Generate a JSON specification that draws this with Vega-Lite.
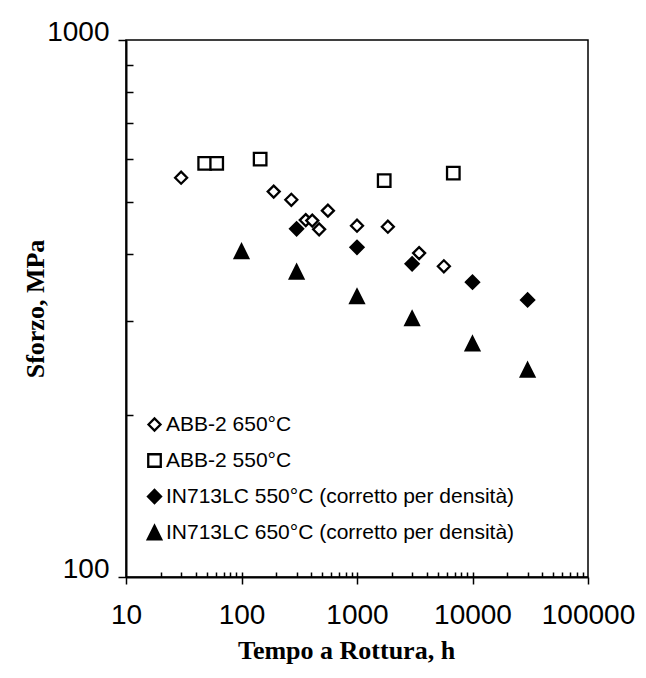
{
  "$schema": "https://vega.github.io/schema/vega-lite/v6.json",
  "width": 462,
  "height": 537,
  "autosize": {"type": "none"},
  "padding": {"left": 126, "top": 40, "right": 58, "bottom": 101},
  "background": "white",
  "config": {
    "view": {"stroke": "black", "strokeWidth": 1.5},
    "axis": {
      "grid": false,
      "domainColor": "black",
      "domainWidth": 2,
      "tickColor": "black",
      "tickWidth": 1.5,
      "labelColor": "black",
      "titleColor": "black",
      "labelFont": "Liberation Sans",
      "labelFontSize": 28,
      "titleFont": "Liberation Serif",
      "titleFontWeight": "bold",
      "titleFontSize": 26
    },
    "legend": {
      "labelFont": "Liberation Sans",
      "labelFontSize": 21,
      "labelColor": "black"
    }
  },
  "data": {
    "values": [
      {"serie": "ABB-2 650°C", "tempo": 30, "sforzo": 554},
      {"serie": "ABB-2 650°C", "tempo": 190, "sforzo": 522},
      {"serie": "ABB-2 650°C", "tempo": 270, "sforzo": 504},
      {"serie": "ABB-2 650°C", "tempo": 360, "sforzo": 462},
      {"serie": "ABB-2 650°C", "tempo": 410, "sforzo": 461},
      {"serie": "ABB-2 650°C", "tempo": 470, "sforzo": 444},
      {"serie": "ABB-2 650°C", "tempo": 560, "sforzo": 481},
      {"serie": "ABB-2 650°C", "tempo": 1000, "sforzo": 451},
      {"serie": "ABB-2 650°C", "tempo": 1850, "sforzo": 449},
      {"serie": "ABB-2 650°C", "tempo": 3450, "sforzo": 401},
      {"serie": "ABB-2 650°C", "tempo": 5650, "sforzo": 379},
      {"serie": "ABB-2 550°C", "tempo": 48, "sforzo": 589},
      {"serie": "ABB-2 550°C", "tempo": 61, "sforzo": 589},
      {"serie": "ABB-2 550°C", "tempo": 145, "sforzo": 600},
      {"serie": "ABB-2 550°C", "tempo": 1720, "sforzo": 547},
      {"serie": "ABB-2 550°C", "tempo": 6820, "sforzo": 565},
      {"serie": "IN713LC 550°C (corretto per densità)", "tempo": 300, "sforzo": 445},
      {"serie": "IN713LC 550°C (corretto per densità)", "tempo": 1000, "sforzo": 411},
      {"serie": "IN713LC 550°C (corretto per densità)", "tempo": 3000, "sforzo": 383},
      {"serie": "IN713LC 550°C (corretto per densità)", "tempo": 10000, "sforzo": 354},
      {"serie": "IN713LC 550°C (corretto per densità)", "tempo": 30000, "sforzo": 328},
      {"serie": "IN713LC 650°C (corretto per densità)", "tempo": 100, "sforzo": 404},
      {"serie": "IN713LC 650°C (corretto per densità)", "tempo": 300, "sforzo": 370},
      {"serie": "IN713LC 650°C (corretto per densità)", "tempo": 1000, "sforzo": 333},
      {"serie": "IN713LC 650°C (corretto per densità)", "tempo": 3000, "sforzo": 303},
      {"serie": "IN713LC 650°C (corretto per densità)", "tempo": 10000, "sforzo": 272},
      {"serie": "IN713LC 650°C (corretto per densità)", "tempo": 30000, "sforzo": 243}
    ]
  },
  "layer": [
    {
      "mark": {"type": "point", "filled": false, "opacity": 1, "stroke": "black", "strokeWidth": 2.3},
      "encoding": {
        "x": {
          "field": "tempo", "type": "quantitative",
          "scale": {"type": "log", "domain": [10, 100000], "nice": false},
          "axis": {
            "orient": "bottom",
            "values": [10, 100, 1000, 10000, 100000],
            "format": "d",
            "tickSize": 7,
            "labelPadding": 17,
            "labelFlush": false,
            "labelOverlap": false,
            "title": "Tempo a Rottura, h",
            "titlePadding": 8,
            "titleX": 220
          }
        },
        "y": {
          "field": "sforzo", "type": "quantitative",
          "scale": {"type": "log", "domain": [100, 1000], "nice": false},
          "axis": {
            "orient": "left",
            "values": [100, 1000],
            "format": "d",
            "tickSize": 8,
            "labelPadding": 9,
            "labelOffset": -8,
            "labelFlush": false,
            "labelOverlap": false,
            "title": "Sforzo, MPa",
            "titlePadding": -2
          }
        },
        "shape": {
          "field": "serie", "type": "nominal",
          "scale": {
            "domain": ["ABB-2 650°C", "ABB-2 550°C", "IN713LC 550°C (corretto per densità)", "IN713LC 650°C (corretto per densità)"],
            "range": ["diamond", "square", "diamond", "M0,-1L1,1L-1,1Z"]
          },
          "legend": {
            "title": null,
            "orient": "none",
            "legendX": 18,
            "legendY": 374,
            "padding": 0,
            "rowPadding": 13,
            "labelOffset": 1,
            "symbolStrokeColor": "black",
            "symbolStrokeWidth": 2.3,
            "labelLimit": 500
          }
        },
        "fill": {
          "field": "serie", "type": "nominal",
          "scale": {
            "domain": ["ABB-2 650°C", "ABB-2 550°C", "IN713LC 550°C (corretto per densità)", "IN713LC 650°C (corretto per densità)"],
            "range": ["white", "white", "black", "black"]
          }
        },
        "size": {
          "field": "serie", "type": "nominal",
          "scale": {
            "domain": ["ABB-2 650°C", "ABB-2 550°C", "IN713LC 550°C (corretto per densità)", "IN713LC 650°C (corretto per densità)"],
            "range": [144, 182, 137, 144]
          }
        }
      }
    },
    {
      "mark": {"type": "point", "opacity": 0},
      "encoding": {
        "x": {
          "field": "tempo", "type": "quantitative",
          "axis": {
            "orient": "bottom",
            "values": [20, 30, 40, 50, 60, 70, 80, 90, 100, 200, 300, 400, 500, 600, 700, 800, 900, 1000, 2000, 3000, 4000, 5000, 6000, 7000, 8000, 9000, 10000, 20000, 30000, 40000, 50000, 60000, 70000, 80000, 90000],
            "tickSize": -5,
            "labels": false,
            "domain": false,
            "title": null
          }
        },
        "y": {
          "field": "sforzo", "type": "quantitative",
          "axis": {
            "orient": "left",
            "values": [200, 300, 400, 500, 600, 700, 800, 900],
            "tickSize": -7,
            "labels": false,
            "domain": false,
            "title": null
          }
        }
      }
    }
  ],
  "resolve": {"axis": {"x": "independent", "y": "independent"}}
}
